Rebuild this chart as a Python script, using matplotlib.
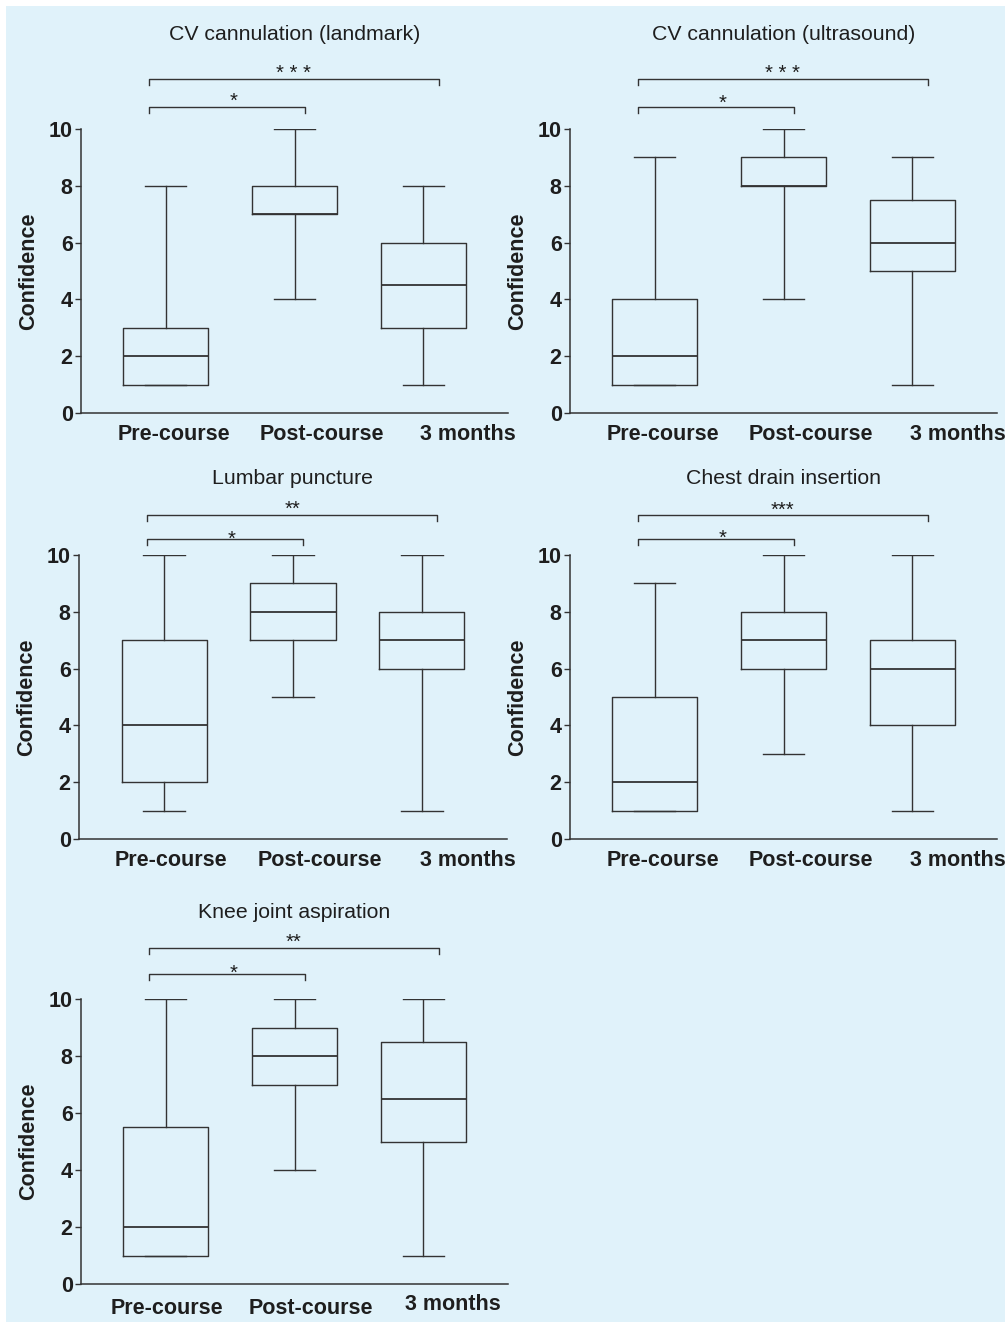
import matplotlib
matplotlib.use("Agg")
import matplotlib.pyplot as plt
import matplotlib.transforms as mtransforms
from matplotlib.patches import Rectangle

plt.rcParams["font.family"] = ["Liberation Sans", "DejaVu Sans"]

# =============================================================================
# Data (five-number summaries)
# =============================================================================
GROUPS = ["Pre-course", "Post-course", "3 months"]

TITLES = [
    "CV cannulation (landmark)",
    "CV cannulation (ultrasound)",
    "Lumbar puncture",
    "Chest drain insertion",
    "Knee joint aspiration",
]

# per panel, per group: whislo, q1, median, q3, whishi
WHISLO = [[1, 4, 1], [1, 4, 1], [1, 5, 1], [1, 3, 1], [1, 4, 1]]
Q1     = [[1, 7, 3], [1, 8, 5], [2, 7, 6], [1, 6, 4], [1, 7, 5]]
MEDIAN = [[2, 7, 4.5], [2, 8, 6], [4, 8, 7], [2, 7, 6], [2, 8, 6.5]]
Q3     = [[3, 8, 6], [4, 9, 7.5], [7, 9, 8], [5, 8, 7], [5.5, 9, 8.5]]
WHISHI = [[8, 10, 8], [9, 10, 9], [10, 10, 10], [9, 10, 10], [10, 10, 10]]

# significance labels: (pre vs post, pre vs 3 months)
SIG_SHORT = ["*", "*", "*", "*", "*"]
SIG_LONG  = ["* * *", "* * *", "**", "***", "**"]

# =============================================================================
# Layout (pixels in a 1005 x 1322 canvas)
# =============================================================================
W, H = 1005, 1322
INK = "#333333"
TXT = "#1e1e1e"
BG = "#e0f2fa"
FS = 15.5

# axes box: left, right, top (value 10), bottom (value 0)
AX_PX = [
    (81, 508, 129, 413),
    (570, 997, 129, 413),
    (79, 507, 555, 839),
    (570, 997, 555, 839),
    (81, 508, 999, 1284),
]
# title y, long bracket y, short bracket y (in pixels)
ANNOT_PX = [
    (35, 79, 107),
    (35, 79, 107),
    (479, 515, 539),
    (479, 515, 539),
    (913, 948, 974),
]
# star baseline offsets (px, relative to bracket) long, short
STAR_OFF = [(0, 0), (0, -2), (0, -6), (-1, -5), (0, -5)]
# x tick label shifts in px, plus a vertical shift for the knee panel
LABEL_DX = [
    (8, 27, 45),
    (8, 27, 46),
    (7, 27, 46),
    (8, 27, 46),
    (1, 16, 30),
]
LABEL_DY = [
    (0, 0, 0),
    (0, 0, 0),
    (0, 0, 0),
    (0, 0, 0),
    (-3, -3, 1),
]

XLIM = (-0.66, 2.66)
BR_X = (-0.13, 1.08, 2.12)


def px_to_val(ypix, top, bottom):
    return (bottom - ypix) / (bottom - top) * 10.0


def panel(fig, i):
    left, right, top, bottom = AX_PX[i]
    ax = fig.add_axes([left / W, 1 - bottom / H, (right - left) / W, (bottom - top) / H])
    ax.set_facecolor("none")

    stats = []
    for j, g in enumerate(GROUPS):
        stats.append(dict(label=g, whislo=WHISLO[i][j], q1=Q1[i][j], med=MEDIAN[i][j],
                          q3=Q3[i][j], whishi=WHISHI[i][j], fliers=[]))
    lp = dict(color=INK, linewidth=1.0)
    ax.bxp(stats, positions=[0, 1, 2], widths=0.66, capwidths=0.32,
           showfliers=False, boxprops=lp, whiskerprops=lp, capprops=lp,
           medianprops=dict(color=INK, linewidth=1.3))

    ax.set_xlim(*XLIM)
    ax.set_ylim(0, 10)
    ax.set_yticks([0, 2, 4, 6, 8, 10])
    ax.set_xticks([0, 1, 2])
    ax.set_xticklabels(GROUPS)
    for s in ["top", "right"]:
        ax.spines[s].set_visible(False)
    for s in ["left", "bottom"]:
        ax.spines[s].set_linewidth(1.1)
        ax.spines[s].set_color(INK)
    ax.tick_params(axis="y", length=4, width=1.0, color=INK, pad=2,
                   labelsize=FS, labelcolor=TXT)
    ax.tick_params(axis="x", length=0, pad=8, labelsize=FS, labelcolor=TXT)
    for lab in ax.get_yticklabels():
        lab.set_fontweight("bold")
    for j, lab in enumerate(ax.get_xticklabels()):
        lab.set_fontweight("bold")
        off = mtransforms.ScaledTranslation(LABEL_DX[i][j] / 100, LABEL_DY[i][j] / 100,
                                            fig.dpi_scale_trans)
        lab.set_transform(lab.get_transform() + off)

    ax.set_ylabel("Confidence", fontsize=FS, fontweight="bold", color=TXT,
                  labelpad=7)

    # title and significance brackets
    ty, yl, ys = ANNOT_PX[i]
    ax.text(1.0 + 0.0, px_to_val(ty, top, bottom), TITLES[i], ha="center", va="center",
            fontsize=15.3, color=TXT, clip_on=False)
    tick = 6 / (bottom - top) * 10
    for (x1, x2, ypix, lab, off, dx) in [
        (BR_X[0], BR_X[2], yl, SIG_LONG[i], STAR_OFF[i][0], 0.0),
        (BR_X[0], BR_X[1], ys, SIG_SHORT[i], STAR_OFF[i][1], 0.05),
    ]:
        y = px_to_val(ypix, top, bottom)
        ax.plot([x1, x1, x2, x2], [y - tick, y, y, y - tick], color=INK,
                linewidth=1.0, clip_on=False)
        ax.text((x1 + x2) / 2 + dx, px_to_val(ypix - off, top, bottom), lab, ha="center",
                va="baseline", fontsize=14.5, color=TXT, clip_on=False)


fig = plt.figure(figsize=(W / 100, H / 100), dpi=100)
fig.patches.append(Rectangle((6 / W, 0), 1, 1 - 6 / H, transform=fig.transFigure,
                             facecolor=BG, edgecolor="none", zorder=-10))
for i in range(len(TITLES)):
    panel(fig, i)

fig.savefig("out.png", dpi=100)
